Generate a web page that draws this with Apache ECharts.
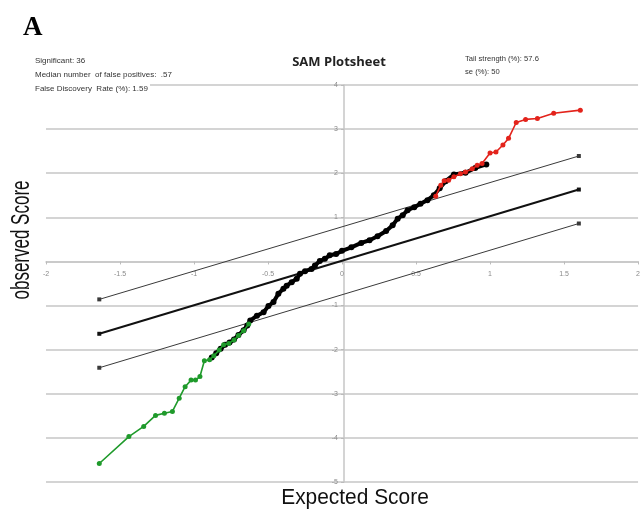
<!DOCTYPE html>
<html>
<head>
<meta charset="utf-8">
<script src="https://cdn.jsdelivr.net/npm/echarts@6/dist/echarts.min.js"></script>
<style>html,body{margin:0;padding:0;background:#fff;}#c{width:643px;height:512px;}</style>
</head>
<body>
<div id="c"></div>
<script>
// ---- data (expected score, observed score) ----
const allGenes = [
  [-0.88,-2.18],[-0.85,-2.08],[-0.82,-1.98],[-0.79,-1.89],[-0.76,-1.84],[-0.73,-1.77],
  [-0.70,-1.67],[-0.665,-1.56],[-0.64,-1.45],[-0.62,-1.34],[-0.575,-1.23],[-0.53,-1.15],
  [-0.497,-1.01],[-0.463,-0.92],[-0.43,-0.73],[-0.396,-0.62],[-0.374,-0.55],[-0.34,-0.47],
  [-0.306,-0.39],[-0.284,-0.28],[-0.25,-0.22],[-0.206,-0.17],[-0.183,-0.09],[-0.15,0.01],
  [-0.116,0.06],[-0.083,0.14],[-0.04,0.17],[0.0,0.24],[0.063,0.32],[0.13,0.42],
  [0.186,0.48],[0.24,0.57],[0.298,0.69],[0.342,0.82],[0.376,0.97],[0.41,1.05],
  [0.443,1.16],[0.488,1.23],[0.53,1.31],[0.577,1.39],[0.62,1.50],[0.66,1.66],
  [0.70,1.82],[0.756,1.97],[0.834,2.01],[0.90,2.12],[0.975,2.20]
];
const sigNegative = [
  [-1.64,-4.58],[-1.44,-3.97],[-1.34,-3.74],[-1.26,-3.49],[-1.20,-3.44],[-1.146,-3.40],
  [-1.10,-3.10],[-1.06,-2.84],[-1.02,-2.69],[-0.99,-2.69],[-0.96,-2.61],[-0.93,-2.25],
  [-0.895,-2.23],[-0.866,-2.14],[-0.83,-2.01],[-0.80,-1.89],[-0.765,-1.86],[-0.73,-1.78],
  [-0.70,-1.68],[-0.665,-1.57],[-0.63,-1.42]
];
const sigPositive = [
  [0.633,1.48],[0.667,1.73],[0.69,1.83],[0.72,1.84],[0.756,1.92],[0.80,1.99],
  [0.834,2.03],[0.88,2.10],[0.913,2.18],[0.946,2.22],[1.00,2.46],[1.04,2.48],
  [1.087,2.64],[1.125,2.79],[1.177,3.15],[1.24,3.22],[1.32,3.24],[1.43,3.36],[1.61,3.43]
];
const lineMiddle = [[-1.64,-1.64],[1.60,1.63]];
const lineUpper  = [[-1.64,-0.86],[1.60,2.39]];
const lineLower  = [[-1.64,-2.41],[1.60,0.86]];
const xRange = {min:-2, max:2, interval:0.5};
const yRange = {min:-5, max:4, interval:1};
const statsLeft = ['Significant: 36','Median number  of false positives:  .57','False Discovery  Rate (%): 1.59'];
const statsRight = ['Tail strength (%): 57.6','se (%): 50'];
const chartTitle = 'SAM Plotsheet';
const panelLetter = 'A';
const xTitle = 'Expected Score';
const yTitle = 'observed Score';

const W = 643, H = 512;
const G = {left:46, right:1, top:85, bottom:30};
const gw = W - G.left - G.right, gh = H - G.top - G.bottom;
// distance to move each axis from the grid edge onto the zero line of the other axis
const xAxisOffset = -(gh * (0 - yRange.min) / (yRange.max - yRange.min));
const yAxisOffset = -(gw * (0 - xRange.min) / (xRange.max - xRange.min));

const chart = echarts.init(document.getElementById('c'), null, {renderer:'canvas'});
const gridColor = '#c6c6c6';
const labelStyle = {fontSize:7, color:'#8a8a8a', fontFamily:'Liberation Sans'};

function refLine(data, width, color){
  return {type:'line', data:data, symbol:'rect', symbolSize:4, showSymbol:true,
    lineStyle:{color:color, width:width}, itemStyle:{color:color}, z:2, silent:true};
}

const option = {
  animation:false,
  backgroundColor:'#fff',
  grid:{left:G.left, right:G.right, top:G.top, bottom:G.bottom, containLabel:false},
  xAxis:{type:'value', min:xRange.min, max:xRange.max, interval:xRange.interval,
    position:'bottom', offset:xAxisOffset,
    axisLine:{onZero:false, lineStyle:{color:gridColor, width:1.5}},
    axisTick:{show:true, length:3, lineStyle:{color:'#bbb'}},
    axisLabel:Object.assign({margin:9}, labelStyle),
    splitLine:{show:false}},
  yAxis:{type:'value', min:yRange.min, max:yRange.max, interval:yRange.interval,
    position:'left', offset:yAxisOffset,
    axisLine:{onZero:false, lineStyle:{color:gridColor, width:1.5}},
    axisTick:{show:true, length:3, lineStyle:{color:'#bbb'}},
    axisLabel:Object.assign({margin:6, formatter:function(v){return v===0?'':String(v);}}, labelStyle),
    splitLine:{show:true, lineStyle:{color:gridColor, width:1.5}}},
  series:[
    refLine(lineUpper, 1, '#3a3a3a'),
    refLine(lineLower, 1, '#3a3a3a'),
    refLine(lineMiddle, 2, '#111'),
    {type:'line', data:allGenes, symbol:'circle', symbolSize:6, showSymbol:true,
      lineStyle:{color:'#000', width:4}, itemStyle:{color:'#000'}, z:3},
    {type:'line', data:sigNegative, symbol:'circle', symbolSize:5, showSymbol:true,
      lineStyle:{color:'#1f9a2b', width:1.6}, itemStyle:{color:'#1f9a2b'}, z:4},
    {type:'line', data:sigPositive, symbol:'circle', symbolSize:5, showSymbol:true,
      lineStyle:{color:'#e3231b', width:1.6}, itemStyle:{color:'#e3231b'}, z:4}
  ],
  graphic:[
    {type:'rect', shape:{x:30, y:50, width:120, height:46}, style:{fill:'#fff'}, z:10},
    {type:'text', x:23, y:28, z:11, style:{text:panelLetter, font:'bold 27px "Liberation Serif"', fill:'#000', textVerticalAlign:'middle'}},
    {type:'text', x:35, y:61, z:11, style:{text:statsLeft[0], font:'8px "Liberation Sans"', fill:'#333', textVerticalAlign:'middle'}},
    {type:'text', x:35, y:75, z:11, style:{text:statsLeft[1], font:'8px "Liberation Sans"', fill:'#333', textVerticalAlign:'middle'}},
    {type:'text', x:35, y:89, z:11, style:{text:statsLeft[2], font:'8px "Liberation Sans"', fill:'#333', textVerticalAlign:'middle'}},
    {type:'text', x:339, y:62, z:11, style:{text:chartTitle, font:'bold 13px "Open Sans"', fill:'#222', textAlign:'center', textVerticalAlign:'middle'}},
    {type:'text', x:465, y:59, z:11, style:{text:statsRight[0], font:'7.6px "Liberation Sans"', fill:'#333', textVerticalAlign:'middle'}},
    {type:'text', x:465, y:72, z:11, style:{text:statsRight[1], font:'7.6px "Liberation Sans"', fill:'#333', textVerticalAlign:'middle'}},
    {type:'text', x:355, y:498, z:11, scaleX:0.95, style:{text:xTitle, font:'22px "Liberation Sans"', fill:'#111', textAlign:'center', textVerticalAlign:'middle'}},
    {type:'text', x:22, y:240, z:11, rotation:Math.PI/2, scaleX:0.68, style:{text:yTitle, font:'25px "Liberation Sans"', fill:'#111', textAlign:'center', textVerticalAlign:'middle'}}
  ]
};
chart.setOption(option);
</script>
</body>
</html>
